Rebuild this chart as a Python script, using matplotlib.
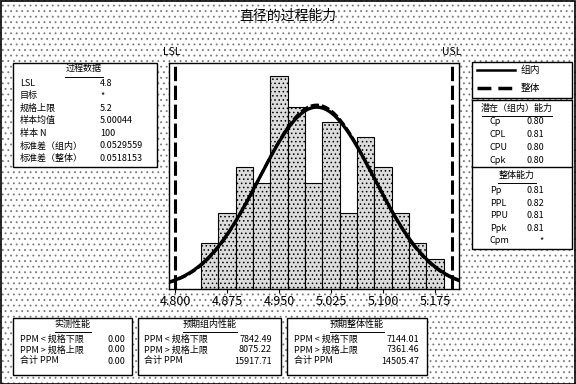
import numpy as np
import matplotlib
matplotlib.use("Agg")
import matplotlib.pyplot as plt
from matplotlib.patches import Rectangle
from matplotlib.lines import Line2D

plt.rcParams['font.family'] = ['Noto Sans CJK SC', 'DejaVu Sans']
plt.rcParams['hatch.linewidth'] = 0.6

# ---------- data ----------
bin_centers = [4.850, 4.875, 4.900, 4.925, 4.950, 4.975, 5.000,
               5.025, 5.050, 5.075, 5.100, 5.125, 5.150, 5.175]
counts = [3, 5, 8, 7, 14, 12, 7, 11, 5, 10, 8, 5, 3, 2]
bin_width = 0.025
lsl, usl = 4.8, 5.2
curve_mean = 5.0044
sigma_within = 0.0833    # curve widths as drawn
sigma_overall = 0.0823
xticks = [4.800, 4.875, 4.950, 5.025, 5.100, 5.175]

proc_labels = ["LSL", "目标", "规格上限", "样本均值", "样本 N",
               "标准差（组内）", "标准差（整体）"]
proc_values = ["4.8", "*", "5.2", "5.00044", "100", "0.0529559", "0.0518153"]

pot_labels = ["Cp", "CPL", "CPU", "Cpk"]
pot_values = ["0.80", "0.81", "0.80", "0.80"]
ovr_labels = ["Pp", "PPL", "PPU", "Ppk", "Cpm"]
ovr_values = ["0.81", "0.82", "0.81", "0.81", "*"]

ppm_labels = ["PPM < 规格下限", "PPM > 规格上限", "合计 PPM"]
obs_values = ["0.00", "0.00", "0.00"]
exp_within = ["7842.49", "8075.22", "15917.71"]
exp_overall = ["7144.01", "7361.46", "14505.47"]

W, H = 576, 384
fig = plt.figure(figsize=(W / 100, H / 100), dpi=100)
fig.patch.set_facecolor("white")

def fx(px):
    return px / W

def fy(py):
    return 1 - py / H

# dotted background
bg = Rectangle((0, 0), 1, 1, transform=fig.transFigure, facecolor="white",
               edgecolor="#777777", hatch="...", lw=0, zorder=-10)
fig.patches.append(bg)
fig.patches.append(Rectangle((0.001, 0.001), 0.997, 0.997, transform=fig.transFigure,
                             fill=False, edgecolor="black", lw=1.2, zorder=-5))

fig.text(fx(288), fy(16), "直径的过程能力", ha="center", va="center", fontsize=10)

# ---------- histogram ----------
ax = fig.add_axes([fx(169), fy(289), fx(459) - fx(169), fy(63) - fy(289)])
ax.set_facecolor("white")
ax.bar(bin_centers, counts, width=bin_width, color="#dcdcdc", edgecolor="black",
       lw=0.8, hatch="....", zorder=2)
xs = np.linspace(4.79, 5.21, 400)
n = sum(counts)
for s, ls, lw in [(sigma_within, "-", 2.4), (sigma_overall, (0, (3, 1)), 2.0)]:
    ys = n * bin_width / (s * np.sqrt(2 * np.pi)) * np.exp(-0.5 * ((xs - curve_mean) / s) ** 2)
    ax.plot(xs, ys, color="black", lw=lw, ls=ls, zorder=4)
for v in (lsl, usl):
    ax.axvline(v, color="black", lw=2.2, ls=(0, (4.7, 1.5)), zorder=5)
ax.set_xlim(4.7913, 5.2096)
ax.set_ylim(0, 14.88)
ax.set_yticks([])
ax.set_xticks(xticks)
ax.set_xticklabels([f"{t:.3f}" for t in xticks], fontsize=9)
ax.tick_params(axis="x", direction="out", length=3, width=0.8, pad=1)
for sp in ax.spines.values():
    sp.set_linewidth(1)
fig.text(fx(172), fy(52), "LSL", ha="center", va="center", fontsize=7.5)
fig.text(fx(452), fy(52), "USL", ha="center", va="center", fontsize=7.5)

def box(x0, y0, x1, y1):
    fig.patches.append(Rectangle((fx(x0), fy(y1)), fx(x1) - fx(x0), fy(y0) - fy(y1),
                                 transform=fig.transFigure, facecolor="white",
                                 edgecolor="black", lw=1, zorder=1))

def header(xc, y, txt, w):
    fig.text(fx(xc), fy(y - 1), txt, ha="center", va="center", fontsize=6.5)
    fig.add_artist(Line2D([fx(xc - w / 2), fx(xc + w / 2)], [fy(y + 6.5), fy(y + 6.5)],
                          color="black", lw=0.7, transform=fig.transFigure))

# process data
box(13, 63, 157, 167)
header(84, 70, "过程数据", 38)
for i, (lab, val) in enumerate(zip(proc_labels, proc_values)):
    y = 83 + i * 12.6
    fig.text(fx(20), fy(y), lab, ha="left", va="center", fontsize=6.5)
    fig.text(fx(100), fy(y), val, ha="left", va="center", fontsize=6.5)

# legend box
box(472, 62, 572, 98)
fig.add_artist(Line2D([fx(477), fx(515)], [fy(70), fy(70)], color="black", lw=1.8,
                      transform=fig.transFigure))
fig.add_artist(Line2D([fx(477), fx(515)], [fy(88), fy(88)], color="black", lw=2.5,
                      ls=(0, (4, 2)), transform=fig.transFigure))
fig.text(fx(521), fy(70), "组内", ha="left", va="center", fontsize=7)
fig.text(fx(521), fy(88), "整体", ha="left", va="center", fontsize=7)

# capability box
box(472, 100, 572, 249)
fig.add_artist(Line2D([fx(472), fx(572)], [fy(167), fy(167)], color="black", lw=1,
                      transform=fig.transFigure))
header(517, 109, "潜在（组内）能力", 70)
for i, (lab, val) in enumerate(zip(pot_labels, pot_values)):
    y = 122 + i * 12.7
    fig.text(fx(490), fy(y), lab, ha="left", va="center", fontsize=6.5)
    fig.text(fx(544), fy(y), val, ha="right", va="center", fontsize=6.5)
header(517, 176, "整体能力", 38)
for i, (lab, val) in enumerate(zip(ovr_labels, ovr_values)):
    y = 191 + i * 12.4
    fig.text(fx(490), fy(y), lab, ha="left", va="center", fontsize=6.5)
    fig.text(fx(544), fy(y), val, ha="right", va="center", fontsize=6.5)

# bottom performance boxes
perf = [(13, 132, 20, 125, "实测性能", obs_values),
        (138, 281, 144, 272, "预期组内性能", exp_within),
        (287, 427, 294, 419, "预期整体性能", exp_overall)]
for x0, x1, lx, rx, title, vals in perf:
    box(x0, 318, x1, 375)
    header((x0 + x1) / 2, 325, title, 9 * len(title))
    for i, (lab, val) in enumerate(zip(ppm_labels, vals)):
        y = 339 + i * 11
        fig.text(fx(lx), fy(y), lab, ha="left", va="center", fontsize=6.5)
        fig.text(fx(rx), fy(y), val, ha="right", va="center", fontsize=6.5)

fig.savefig("out.png", dpi=100)
